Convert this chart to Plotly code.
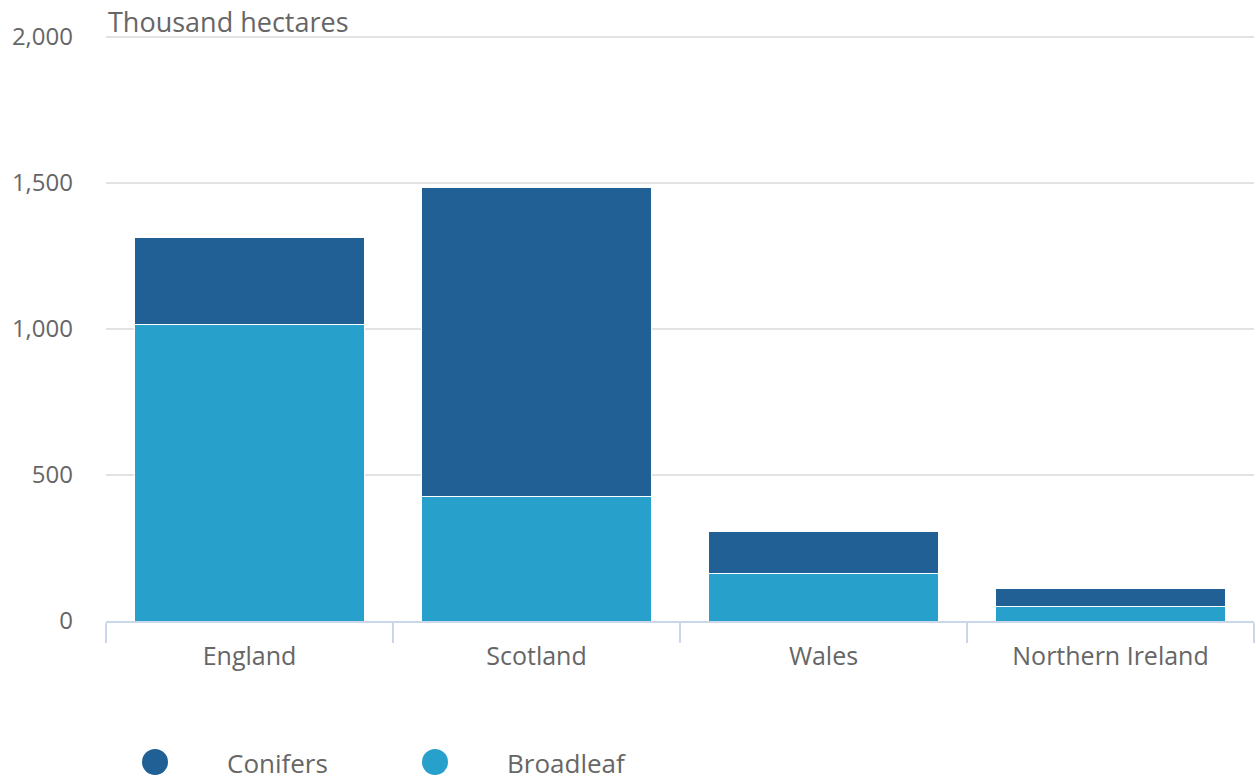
import plotly.graph_objects as go

categories = ["England", "Scotland", "Wales", "Northern Ireland"]
broadleaf = [1017, 425, 164, 48]
conifers = [298, 1061, 144, 62]
y_ticks = [0, 500, 1000, 1500, 2000]
y_tick_labels = ["0", "500", "1,000", "1,500", "2,000"]
legend_names = ["Conifers", "Broadleaf"]

CONIFER = "#206095"
BROAD = "#27a0cc"
FONT = "Open Sans"
GREY = "#666666"

# body margin removed via post_script, so figure fills the whole window
W, H = 1256, 780
EXTRA = 6  # a little headroom above 2,000 so its gridline is drawn
L, R, T, B = 106, 2, 37 - EXTRA, 780 - 621
PW, PH = W - L - R, H - T - B
YMAX = 2000 * PH / (PH - EXTRA)

fig = go.Figure()
fig.add_trace(go.Bar(x=categories, y=broadleaf, name="Broadleaf", marker_color=BROAD,
                     marker_line=dict(color="white", width=1), showlegend=False))
fig.add_trace(go.Bar(x=categories, y=conifers, name="Conifers", marker_color=CONIFER,
                     marker_line=dict(color="white", width=1), showlegend=False))

def px_x(p):  # window pixel -> paper
    return (p - L) / PW

def px_y(p):
    return (H - B - p) / PH

shapes = []
annotations = [dict(text="Thousand hectares", xref="paper", yref="paper",
                    x=px_x(106), y=px_y(21), xanchor="left", yanchor="middle", showarrow=False,
                    font=dict(size=27, color=GREY, family=FONT))]
# custom legend (circle symbols + labels)
legend_cx = [155, 435]
legend_tx = [225, 505]
for name, col, cx, tx in zip(legend_names, [CONIFER, BROAD], legend_cx, legend_tx):
    shapes.append(dict(type="circle", xref="paper", yref="paper",
                       x0=px_x(cx - 13), x1=px_x(cx + 13), y0=px_y(775), y1=px_y(749),
                       fillcolor=col, line=dict(width=0)))
    annotations.append(dict(text=name, xref="paper", yref="paper", x=px_x(tx), y=px_y(763),
                            xanchor="left", yanchor="middle", showarrow=False,
                            font=dict(size=26, color=GREY, family=FONT)))

fig.update_layout(
    barmode="stack",
    bargap=0.2,
    width=W, height=H,
    margin=dict(l=L, r=R, t=T, b=B),
    plot_bgcolor="white", paper_bgcolor="white",
    font=dict(family=FONT, color=GREY, size=20),
    showlegend=False,
    xaxis=dict(showline=True, linecolor="#ccd6eb", linewidth=2,
               ticks="outside", tickson="boundaries", ticklen=20, tickcolor="#ccd6eb", tickwidth=2,
               tickfont=dict(size=25, color=GREY), showgrid=False, fixedrange=True,
               ticklabelstandoff=12, automargin=False, range=[-0.5, 3.5]),
    yaxis=dict(range=[0, YMAX], tickvals=y_ticks, ticktext=y_tick_labels,
               gridcolor="#e3e3e3", gridwidth=2, zeroline=False,
               tickfont=dict(size=24, color=GREY), ticklabelstandoff=32, fixedrange=True,
               automargin=False),
    shapes=shapes,
    annotations=annotations,
)

fig.write_html("out.html", config={"displayModeBar": False},
               post_script="document.body.style.margin='0';document.body.style.overflow='hidden';")
